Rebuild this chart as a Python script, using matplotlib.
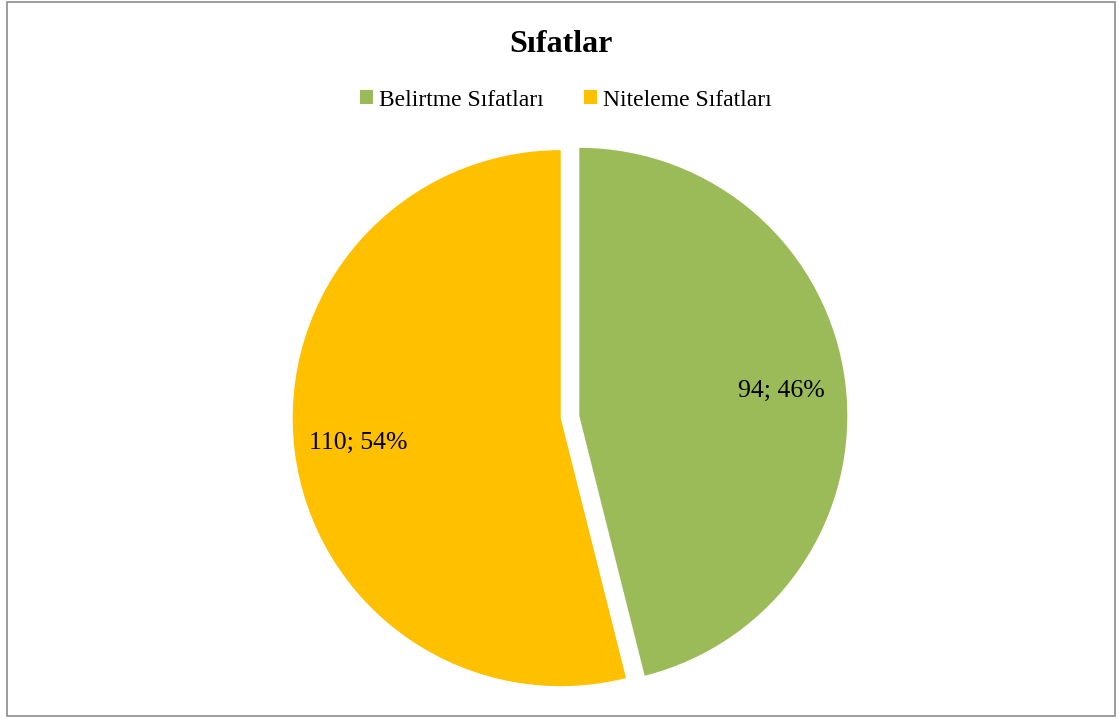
import matplotlib.pyplot as plt
from matplotlib.patches import Patch, Rectangle

plt.rcParams['font.family'] = ['Liberation Serif', 'DejaVu Serif']

labels = ['Belirtme Sıfatları', 'Niteleme Sıfatları']
counts = [94, 110]
colors = ['#9BBB59', '#FFC000']

W, H = 1119, 719
fig = plt.figure(figsize=(W / 100, H / 100), dpi=100)

# square axes centred on the pie, 268 px per unit radius
cx, cy, half = 570, 417, 1.1 * 268
ax = fig.add_axes([(cx - half) / W, (H - cy - half) / H, 2 * half / W, 2 * half / H])

total = sum(counts)


def fmt(pct):
    n = int(round(pct * total / 100))
    return f'{n}; {pct:.0f}%'


ax.pie(counts, colors=colors, startangle=90, counterclock=False,
       explode=[0.035, 0.035], autopct=fmt, pctdistance=0.76,
       textprops={'fontsize': 18.5, 'color': 'black'})
ax.set_xlim(-1.1, 1.1)
ax.set_ylim(-1.1, 1.1)
ax.set_aspect('equal')
ax.axis('off')

fig.text(561 / W, 1 - 52 / H, 'Sıfatlar', ha='center', va='baseline',
         fontsize=23, fontweight='bold')

handles = [Patch(facecolor=c, edgecolor='none') for c in colors]
fig.legend(handles, labels, loc='center', bbox_to_anchor=(566 / W, 1 - 100 / H),
           ncol=2, frameon=False, fontsize=17, handlelength=0.55,
           handleheight=0.55, handletextpad=0.25, columnspacing=1.7)

# chart area border
fig.add_artist(Rectangle((6.5, 3), 1108.5, 714.5, transform=None, fill=False,
                         edgecolor='#8c8c8c', linewidth=1.2))

fig.savefig('out.png', dpi=100)
